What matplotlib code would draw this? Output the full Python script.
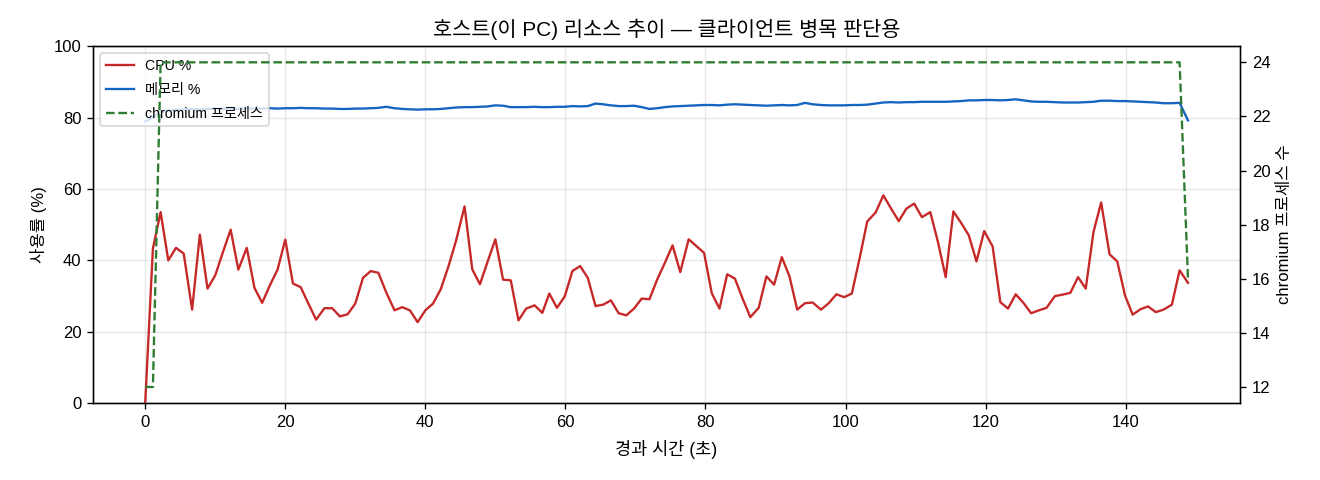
import matplotlib
matplotlib.use("Agg")
import matplotlib.pyplot as plt

plt.rcParams['font.family'] = ['Liberation Sans', 'Noto Sans CJK KR', 'DejaVu Sans']
plt.rcParams['axes.unicode_minus'] = False

elapsed = [0.0, 1.1, 2.2, 3.3, 4.4, 5.5, 6.7, 7.8, 8.9, 10.0,
           11.1, 12.2, 13.3, 14.5, 15.6, 16.7, 17.8, 18.9, 20.0, 21.1,
           22.2, 23.3, 24.4, 25.6, 26.7, 27.8, 28.9, 30.0, 31.1, 32.2,
           33.3, 34.4, 35.6, 36.7, 37.8, 38.9, 40.0, 41.1, 42.2, 43.3,
           44.4, 45.6, 46.7, 47.8, 48.9, 50.0, 51.1, 52.2, 53.3, 54.4,
           55.6, 56.7, 57.7, 58.8, 59.9, 61.0, 62.1, 63.2, 64.3, 65.4,
           66.5, 67.6, 68.7, 69.8, 70.9, 72.0, 73.1, 74.2, 75.3, 76.4,
           77.6, 78.7, 79.8, 80.9, 82.0, 83.1, 84.2, 85.3, 86.4, 87.6,
           88.7, 89.8, 90.9, 92.0, 93.1, 94.2, 95.3, 96.5, 97.6, 98.7,
           99.8, 100.9, 102.0, 103.1, 104.3, 105.4, 106.5, 107.6, 108.7, 109.8,
           110.9, 112.1, 113.2, 114.3, 115.4, 116.5, 117.6, 118.7, 119.8, 121.0,
           122.1, 123.2, 124.3, 125.4, 126.5, 127.6, 128.7, 129.9, 131.0, 132.1,
           133.2, 134.3, 135.4, 136.5, 137.7, 138.8, 139.9, 141.0, 142.1, 143.2,
           144.3, 145.4, 146.6, 147.7, 148.9]

cpu_pct = [0.0, 43.3, 53.5, 40.0, 43.5, 41.9, 26.2, 47.2, 32.1, 35.8,
           42.3, 48.6, 37.4, 43.5, 32.3, 28.1, 33.0, 37.4, 45.8, 33.5,
           32.5, 27.9, 23.4, 26.6, 26.6, 24.3, 24.9, 27.9, 35.1, 37.0,
           36.5, 31.1, 26.0, 26.9, 26.0, 22.7, 26.0, 27.9, 31.9, 38.3,
           45.6, 55.1, 37.5, 33.3, 39.7, 45.9, 34.6, 34.4, 23.2, 26.5,
           27.4, 25.3, 30.7, 26.7, 29.9, 37.0, 38.4, 35.1, 27.2, 27.6,
           28.8, 25.2, 24.6, 26.5, 29.3, 29.1, 34.6, 39.3, 44.2, 36.7,
           45.9, 44.0, 42.1, 30.8, 26.5, 36.1, 34.9, 29.3, 24.1, 26.7,
           35.5, 33.2, 40.9, 35.5, 26.2, 28.0, 28.2, 26.2, 28.0, 30.5,
           29.7, 30.7, 40.5, 50.9, 53.4, 58.2, 54.5, 51.0, 54.5, 55.9,
           52.1, 53.5, 45.1, 35.3, 53.7, 50.5, 47.0, 39.7, 48.2, 43.9,
           28.3, 26.5, 30.5, 28.1, 25.2, 26.0, 26.7, 30.0, 30.4, 30.9,
           35.3, 32.1, 47.9, 56.2, 41.7, 39.7, 30.2, 24.8, 26.3, 27.1,
           25.5, 26.2, 27.6, 37.2, 33.7]

mem_pct = [78.9, 80.0, 81.6, 82.0, 82.2, 82.3, 82.4, 82.3, 82.4, 82.5,
           82.4, 82.5, 82.4, 82.6, 82.5, 82.5, 82.6, 82.5, 82.6, 82.6,
           82.7, 82.6, 82.6, 82.5, 82.5, 82.4, 82.4, 82.5, 82.5, 82.6,
           82.7, 83.0, 82.6, 82.4, 82.3, 82.2, 82.3, 82.3, 82.4, 82.6,
           82.8, 82.9, 82.9, 83.0, 83.1, 83.4, 83.3, 82.9, 82.9, 82.9,
           83.0, 82.9, 82.9, 83.0, 83.0, 83.2, 83.1, 83.2, 83.9, 83.7,
           83.4, 83.2, 83.2, 83.3, 82.9, 82.4, 82.6, 82.9, 83.1, 83.2,
           83.3, 83.4, 83.5, 83.5, 83.4, 83.6, 83.7, 83.6, 83.5, 83.4,
           83.3, 83.4, 83.5, 83.4, 83.5, 84.1, 83.7, 83.5, 83.4, 83.4,
           83.4, 83.5, 83.5, 83.6, 83.9, 84.2, 84.3, 84.2, 84.3, 84.3,
           84.4, 84.4, 84.4, 84.4, 84.5, 84.6, 84.8, 84.8, 84.9, 84.9,
           84.8, 84.9, 85.1, 84.8, 84.5, 84.4, 84.4, 84.3, 84.2, 84.2,
           84.2, 84.3, 84.4, 84.7, 84.7, 84.6, 84.6, 84.5, 84.4, 84.3,
           84.2, 84.0, 84.0, 84.1, 79.2]

chromium_procs = [12, 12] + [24] * 131 + [24, 16]

fig = plt.figure(figsize=(11, 4), dpi=120)
ax1 = fig.add_axes([0.0705, 0.160, 0.8690, 0.744])
ax2 = ax1.twinx()

l1, = ax1.plot(elapsed, cpu_pct, color='#c62828', lw=1.4, label='CPU %')
l2, = ax1.plot(elapsed, mem_pct, color='#1565c0', lw=1.4, label='메모리 %')
l3, = ax2.plot(elapsed, chromium_procs, color='#2e7d32', lw=1.4, ls='--',
               label='chromium 프로세스')

ax1.set_ylim(0, 100)
ax1.set_xlabel('경과 시간 (초)', fontsize=10.5, labelpad=6)
ax1.set_ylabel('사용률 (%)', fontsize=10)
ax2.set_ylabel('chromium 프로세스 수', fontsize=10)
ax1.set_title('호스트(이 PC) 리소스 추이 — 클라이언트 병목 판단용', fontsize=12.5)
ax1.grid(True, alpha=0.3)
ax1.tick_params(labelsize=10)
ax2.tick_params(labelsize=10)

ax1.legend(handles=[l1, l2, l3], loc='upper left', fontsize=8.5, labelspacing=0.7)

fig.savefig('out.png', dpi=120)
